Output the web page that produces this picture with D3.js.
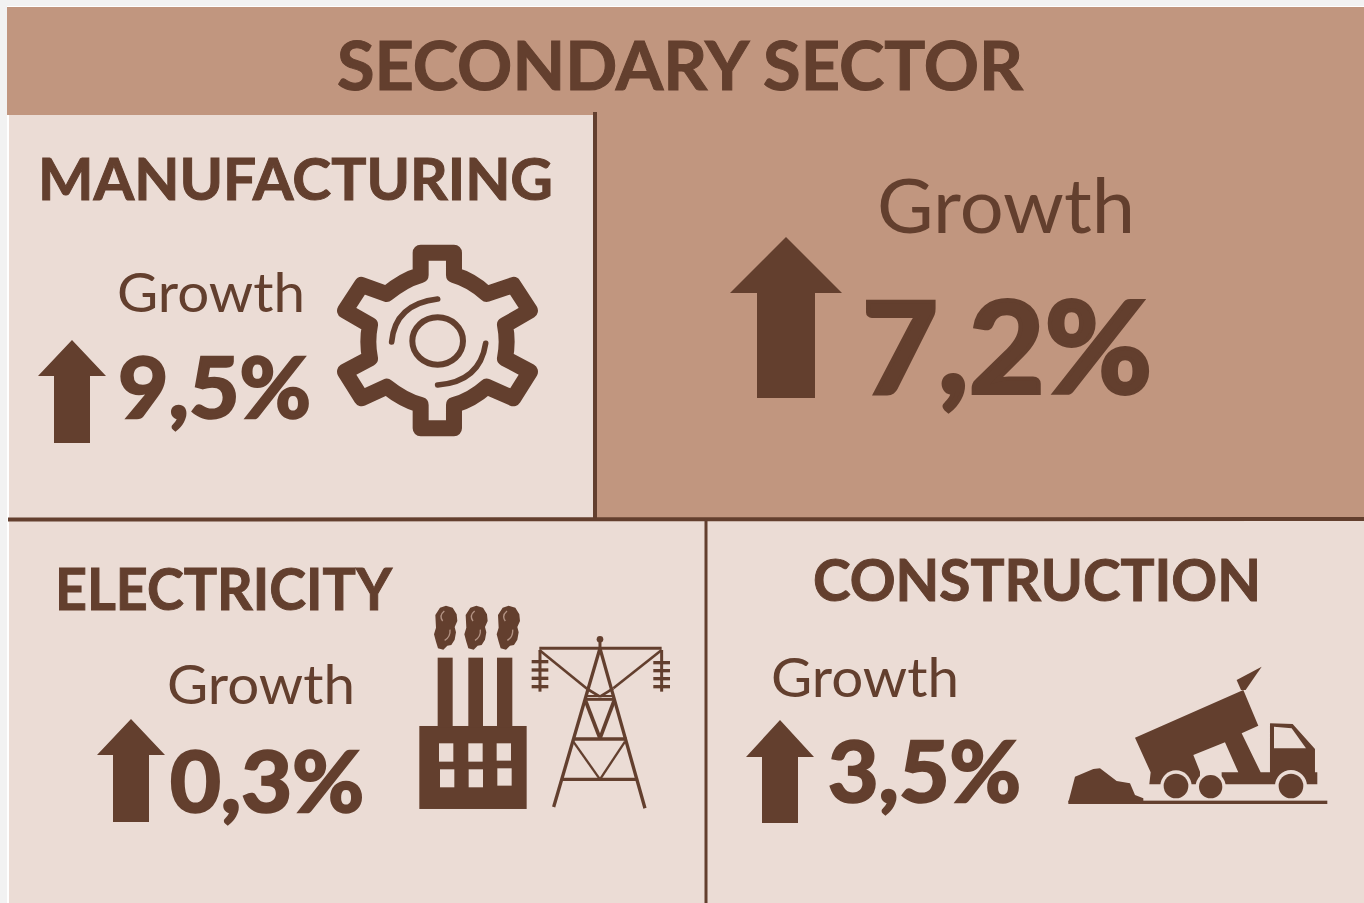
<!DOCTYPE html>
<html>
<head>
<meta charset="utf-8">
<script src="https://cdnjs.cloudflare.com/ajax/libs/d3/7.8.5/d3.min.js"></script>
<style>
    html, body { margin: 0; padding: 0; background: #f2f2f2; overflow: hidden; }
    text { font-family: Lato, "Open Sans", sans-serif; }
</style>
</head>
<body>
<div id="canvas"></div>
<script>
// values
const title = "SECONDARY SECTOR";
const sectors = ["MANUFACTURING", "ELECTRICITY", "CONSTRUCTION"];
const sectorGrowth = ["9,5%", "0,3%", "3,5%"];
const overallGrowth = "7,2%";
const growthLabel = "Growth";

const width = 1364;
const height = 903;
const dark = "#633f2e";
const mid = "#c1967f";
const light = "#ebdcd5";

const canvas = d3.select("#canvas")
    .append("svg")
    .attr("width", width)
    .attr("height", height)
    .style("display", "block");

// panels
const panels = [
    { x: 7, y: 6, w: 1357, h: 1, fill: "#ffffff" },
    { x: 7, y: 115, w: 2, h: 788, fill: "#ffffff" },
    { x: 7, y: 7, w: 1357, h: 108, fill: mid },
    { x: 9, y: 115, w: 586, h: 404, fill: light },
    { x: 595, y: 115, w: 769, h: 404, fill: mid },
    { x: 9, y: 519, w: 1355, h: 384, fill: light }
];
canvas.selectAll("rect.panel")
    .data(panels)
    .join("rect")
    .attr("class", "panel")
    .attr("x", d => d.x)
    .attr("y", d => d.y)
    .attr("width", d => d.w)
    .attr("height", d => d.h)
    .attr("fill", d => d.fill);

// divider lines
const dividers = [
    { x1: 595, y1: 112, x2: 595, y2: 519, w: 4 },
    { x1: 8, y1: 519.5, x2: 1364, y2: 519, w: 4 },
    { x1: 706, y1: 519, x2: 706, y2: 903, w: 3 }
];
canvas.selectAll("line.divider")
    .data(dividers)
    .join("line")
    .attr("class", "divider")
    .attr("x1", d => d.x1)
    .attr("y1", d => d.y1)
    .attr("x2", d => d.x2)
    .attr("y2", d => d.y2)
    .attr("stroke", dark)
    .attr("stroke-width", d => d.w);

// all text, with the spans measured on the reference
// bold = extra outline, Lato bold is thinner than what the picture uses
const labels = [
    { t: title, x: 337, x2: 1023, y: 90, size: 66, weight: 700, bold: 1 },
    { t: sectors[0], x: 38, x2: 553, y: 200, size: 58, weight: 700, bold: 1 },
    { t: sectors[1], x: 55, x2: 392, y: 610, size: 58, weight: 700, bold: 1 },
    { t: sectors[2], x: 813, x2: 1261, y: 601, size: 58, weight: 700, bold: 1 },
    { t: growthLabel, x: 877, x2: 1135, y: 233, size: 76, weight: 400, bold: 0 },
    { t: growthLabel, x: 117, x2: 305, y: 312, size: 55, weight: 400, bold: 0 },
    { t: growthLabel, x: 167, x2: 355, y: 704, size: 55, weight: 400, bold: 0 },
    { t: growthLabel, x: 771, x2: 959, y: 697, size: 55, weight: 400, bold: 0 },
    { t: overallGrowth, x: 862, x2: 1152, y: 393, size: 127, weight: 700, bold: 4 },
    { t: sectorGrowth[0], x: 118, x2: 311, y: 418, size: 85, weight: 700, bold: 2.5 },
    { t: sectorGrowth[1], x: 170, x2: 364, y: 812, size: 85, weight: 700, bold: 2.5 },
    { t: sectorGrowth[2], x: 828, x2: 1021, y: 802, size: 85, weight: 700, bold: 2.5 }
];
canvas.selectAll("text.label")
    .data(labels)
    .join("text")
    .attr("class", "label")
    .attr("x", d => d.x)
    .attr("y", d => d.y)
    .attr("textLength", d => d.x2 - d.x)
    .attr("lengthAdjust", "spacingAndGlyphs")
    .attr("font-size", d => d.size)
    .attr("font-weight", d => d.weight)
    .attr("fill", dark)
    .attr("stroke", dark)
    .attr("stroke-width", d => d.bold)
    .text(d => d.t);

// up arrows
const arrows = [
    { tip: 786, top: 237, neck: 293, half: 56, shaft: 29, bottom: 398 },
    { tip: 72, top: 340, neck: 376, half: 34, shaft: 18, bottom: 443 },
    { tip: 131, top: 719, neck: 755, half: 34, shaft: 18, bottom: 822 },
    { tip: 780, top: 720, neck: 757, half: 34, shaft: 18, bottom: 823 }
];
const arrowLine = d3.line();
canvas.selectAll("path.arrow")
    .data(arrows)
    .join("path")
    .attr("class", "arrow")
    .attr("fill", dark)
    .attr("d", d => arrowLine([
        [d.tip, d.top],
        [d.tip + d.half, d.neck],
        [d.tip + d.shaft, d.neck],
        [d.tip + d.shaft, d.bottom],
        [d.tip - d.shaft, d.bottom],
        [d.tip - d.shaft, d.neck],
        [d.tip - d.half, d.neck]
    ]) + "Z");

// gear icon
const gear = canvas.append("g")
    .attr("transform", "translate(320,230) scale(0.3333)")
    .attr("fill", "none")
    .attr("stroke", dark)
    .attr("stroke-linejoin", "round")
    .attr("stroke-linecap", "round");
gear.append("path")
    .attr("stroke-width", 48)
    .attr("d", "M302,68 L402,68 L402,135 Q455,150 500,192 L580,165 L630,242 L555,285 Q565,335 555,385 L630,425 L580,505 L500,470 Q455,510 402,525 L402,595 L302,595 L302,525 Q250,510 200,470 L125,505 L75,425 L150,385 Q140,335 150,285 L75,242 L125,165 L200,192 Q250,150 302,135 Z");
gear.append("ellipse")
    .attr("cx", 353)
    .attr("cy", 333)
    .attr("rx", 76)
    .attr("ry", 71)
    .attr("stroke-width", 18);
gear.append("path")
    .attr("stroke-width", 17)
    .attr("d", "M215,336 Q225,222 353,207");
gear.append("path")
    .attr("stroke-width", 17)
    .attr("d", "M497,340 Q480,455 353,465");

// factory icon
const factory = canvas.append("g")
    .attr("transform", "translate(410,595) scale(0.3333)");
factory.append("rect").attr("x", 28).attr("y", 393).attr("width", 322).attr("height", 249).attr("fill", dark);
const chimneys = [[83, 45], [175, 44], [261, 46]];
factory.selectAll("rect.chimney")
    .data(chimneys)
    .join("rect")
    .attr("class", "chimney")
    .attr("x", d => d[0])
    .attr("y", 188)
    .attr("width", d => d[1])
    .attr("height", 210)
    .attr("fill", dark);
const windowsPos = [[87, 445, 55], [175, 445, 55], [260, 445, 52], [90, 523, 54], [176, 523, 54], [262, 520, 52]];
factory.selectAll("rect.win")
    .data(windowsPos)
    .join("rect")
    .attr("class", "win")
    .attr("x", d => d[0])
    .attr("y", d => d[1])
    .attr("width", 43)
    .attr("height", d => d[2])
    .attr("fill", light);
const smokeX = [0, 91, 188];
const smoke = factory.selectAll("g.smoke")
    .data(smokeX)
    .join("g")
    .attr("class", "smoke")
    .attr("transform", d => `translate(${d},0)`);
smoke.append("path")
    .attr("fill", dark)
    .attr("d", "M90,38 L108,32 L128,38 L140,58 L142,78 L134,96 L138,112 L134,134 L124,150 L112,152 L100,164 L84,160 L78,140 L72,118 L78,98 L76,60 Z");
smoke.append("path")
    .attr("fill", "none")
    .attr("stroke", "#b39384")
    .attr("stroke-width", 4)
    .attr("d", "M103,48 Q86,62 98,78 M120,104 Q122,126 104,136");

// power line tower
const tower = canvas.append("g")
    .attr("transform", "translate(410,595) scale(0.3333)")
    .attr("stroke", dark)
    .attr("fill", "none");
const towerBeams = [
    [388, 160, 755, 160, 9], [570, 133, 570, 160, 9],
    [570, 160, 431, 636, 10], [570, 160, 705, 640, 10],
    [388, 165, 532, 282, 8], [532, 282, 570, 305, 8], [570, 305, 610, 280, 8], [610, 280, 755, 165, 8],
    [530, 303, 610, 303, 6], [525, 313, 615, 313, 9], [490, 432, 650, 432, 10], [455, 553, 680, 553, 10],
    [527, 318, 570, 430, 11], [612, 318, 570, 430, 11],
    [490, 440, 570, 553, 7], [645, 440, 570, 553, 7],
    [390, 165, 390, 290, 9], [755, 165, 755, 290, 9],
    [365, 200, 415, 200, 10], [365, 225, 415, 225, 10], [365, 250, 415, 250, 10], [365, 275, 415, 275, 10],
    [730, 203, 780, 203, 10], [730, 227, 780, 227, 10], [730, 251, 780, 251, 10], [730, 275, 780, 275, 10]
];
tower.selectAll("line")
    .data(towerBeams)
    .join("line")
    .attr("x1", d => d[0])
    .attr("y1", d => d[1])
    .attr("x2", d => d[2])
    .attr("y2", d => d[3])
    .attr("stroke-width", d => d[4]);
tower.append("circle").attr("cx", 570).attr("cy", 133).attr("r", 10).attr("fill", dark).attr("stroke", "none");

// dump truck icon
const truck = canvas.append("g")
    .attr("transform", "translate(1060,655) scale(0.3333)");
truck.append("path")
    .attr("fill", dark)
    .attr("d", "M225,248 L550,105 L595,212 L545,235 L602,352 L630,352 L630,205 L698,207 L765,282 L765,352 L772,352 L772,388 L268,388 L272,352 Z");
truck.append("path")
    .attr("fill", dark)
    .attr("d", "M530,75 L605,35 L557,105 L543,105 Z");
truck.append("path")
    .attr("fill", light)
    .attr("d", "M400,300 L495,262 L535,352 L485,352 L485,388 L420,388 L420,350 Z");
truck.append("path")
    .attr("fill", light)
    .attr("d", "M642,215 L695,220 L738,280 L642,280 Z");
const wheels = [[348, 393, 37, 47], [452, 395, 35, 45], [693, 393, 37, 48]];
truck.selectAll("circle.arch")
    .data(wheels)
    .join("circle")
    .attr("class", "arch")
    .attr("cx", d => d[0])
    .attr("cy", d => d[1])
    .attr("r", d => d[3])
    .attr("fill", light);
truck.selectAll("circle.wheel")
    .data(wheels)
    .join("circle")
    .attr("class", "wheel")
    .attr("cx", d => d[0])
    .attr("cy", d => d[1])
    .attr("r", d => d[2])
    .attr("fill", dark);
truck.append("path")
    .attr("fill", dark)
    .attr("d", "M25,442 L45,365 L100,342 L120,340 L170,378 L210,385 L225,420 L250,430 L250,442 Z");
truck.append("rect").attr("x", 25).attr("y", 437).attr("width", 777).attr("height", 10).attr("fill", dark);
</script>
</body>
</html>
